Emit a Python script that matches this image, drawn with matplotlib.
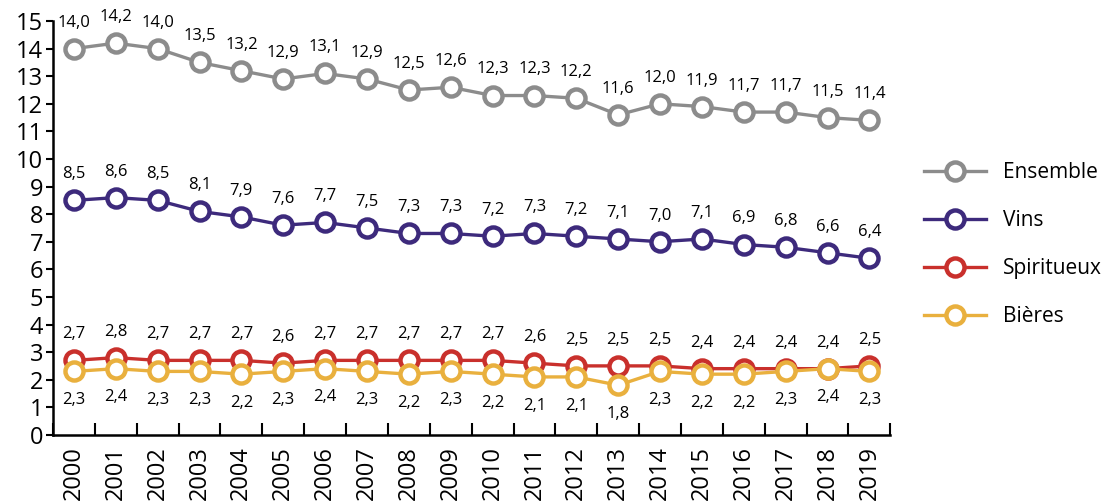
import numpy as np
import matplotlib.pyplot as plt

plt.rcParams['font.family'] = ['Open Sans', 'DejaVu Sans']

# Data
years = [str(y) for y in range(2000, 2020)]
ensemble = [14.0, 14.2, 14.0, 13.5, 13.2, 12.9, 13.1, 12.9, 12.5, 12.6, 12.3, 12.3, 12.2, 11.6, 12.0, 11.9, 11.7, 11.7, 11.5, 11.4]
vins = [8.5, 8.6, 8.5, 8.1, 7.9, 7.6, 7.7, 7.5, 7.3, 7.3, 7.2, 7.3, 7.2, 7.1, 7.0, 7.1, 6.9, 6.8, 6.6, 6.4]
spiritueux = [2.7, 2.8, 2.7, 2.7, 2.7, 2.6, 2.7, 2.7, 2.7, 2.7, 2.7, 2.6, 2.5, 2.5, 2.5, 2.4, 2.4, 2.4, 2.4, 2.5]
bieres = [2.3, 2.4, 2.3, 2.3, 2.2, 2.3, 2.4, 2.3, 2.2, 2.3, 2.2, 2.1, 2.1, 1.8, 2.3, 2.2, 2.2, 2.3, 2.4, 2.3]

series = [
    ('Ensemble', ensemble, '#8c8c8c', 'above'),
    ('Vins', vins, '#3d2a7c', 'above'),
    ('Spiritueux', spiritueux, '#c9302c', 'above'),
    ('Bières', bieres, '#e9b03e', 'below'),
]

fig = plt.figure(figsize=(11.15, 5.01), dpi=100)
ax = fig.add_axes([0.0475, 0.132, 0.751, 0.826])
x = np.arange(len(years))

for name, vals, col, pos in series:
    ax.plot(x, vals, '-o', color=col, lw=2.4, ms=13, mfc='white', mec=col, mew=3.2,
            label=name, zorder=3)
    for xi, v in zip(x, vals):
        off = 13 if pos == 'above' else -15
        ax.annotate(f'{v:.1f}'.replace('.', ','), (xi, v), xytext=(0, off),
                    textcoords='offset points', ha='center',
                    va='bottom' if pos == 'above' else 'top', fontsize=12)

ax.set_xlim(-0.5, 19.5)
ax.set_ylim(0, 15)
ax.set_yticks(range(0, 16))
ax.set_xticks(x)
ax.set_xticklabels(years, rotation=90, fontsize=17)
ax.set_xticks(np.arange(-0.5, 20, 1), minor=True)
ax.tick_params(axis='x', which='major', length=0, pad=8)
ax.tick_params(axis='x', which='minor', direction='in', length=9, width=1.5)
ax.tick_params(axis='y', labelsize=17, length=5, width=1.5, pad=2)
for s in ['top', 'right']:
    ax.spines[s].set_visible(False)
for s in ['left', 'bottom']:
    ax.spines[s].set_linewidth(1.8)

ax.legend(loc='center left', bbox_to_anchor=(1.025, 0.46), frameon=False,
          fontsize=15, handlelength=3.0, labelspacing=1.3, handletextpad=0.8,
          borderaxespad=0.2)

fig.savefig('out.png', dpi=100)
